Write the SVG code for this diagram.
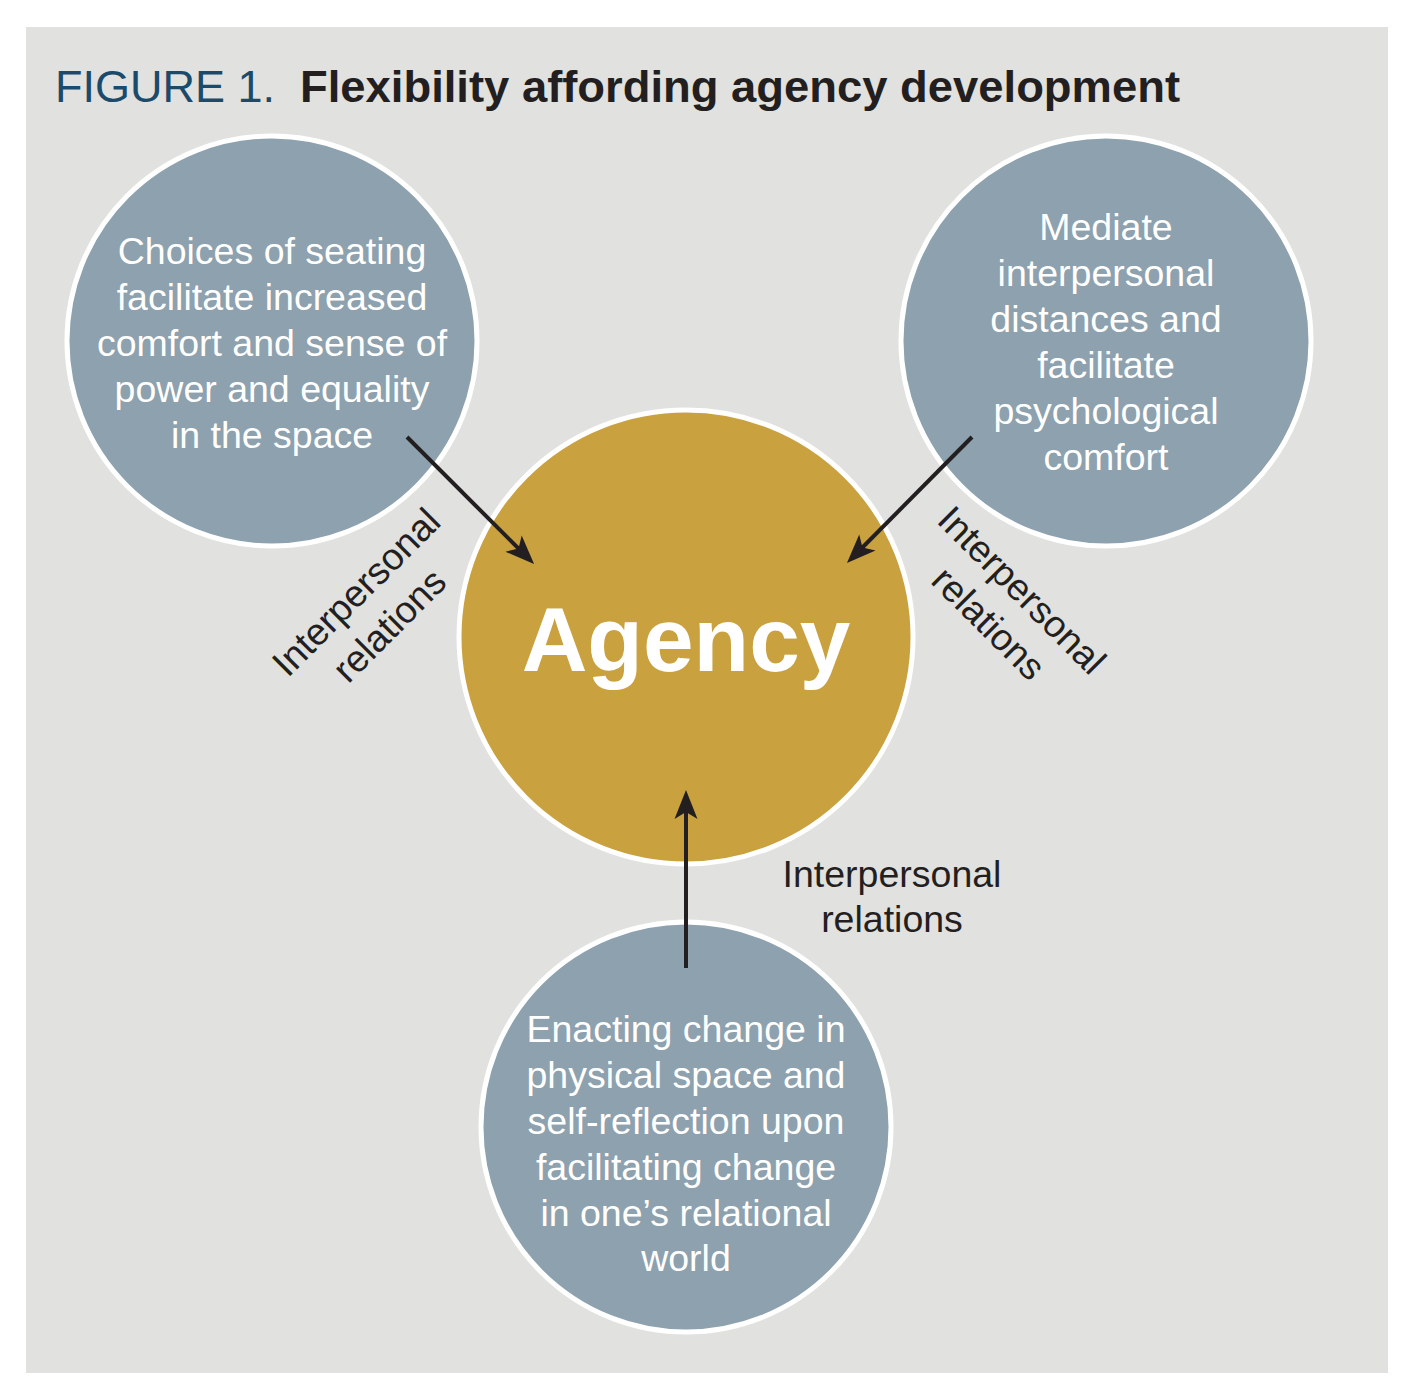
<svg xmlns="http://www.w3.org/2000/svg" width="1411" height="1400" viewBox="0 0 1411 1400">
<defs>
<style>
.bg{fill:#e1e1df}
.node{fill:#8da1ae;stroke:#ffffff;stroke-width:5}
.core{fill:#c9a13f;stroke:#ffffff;stroke-width:5}
.nt{font-family:"Liberation Sans",Arial,sans-serif;font-size:37.5px;fill:#ffffff;text-anchor:middle}
.lbl{font-family:"Liberation Sans",Arial,sans-serif;font-size:37.5px;fill:#231f20;text-anchor:middle}
.conn{stroke:#231f20;stroke-width:4;fill:none;marker-end:url(#ah)}
</style>
<marker id="ah" markerUnits="userSpaceOnUse" viewBox="-22 -13 34 26" markerWidth="34" markerHeight="26" refX="0" refY="0" orient="auto">
<path d="M10,0 L-19,-11.5 L-12,0 L-19,11.5 Z" fill="#231f20"/>
</marker>
</defs>
<rect x="0" y="0" width="1411" height="1400" fill="#ffffff"/>
<rect class="bg" x="26" y="27" width="1362" height="1346"/>
<g id="title">
<text x="55" y="102" font-family="'Liberation Sans',Arial,sans-serif" font-size="45" fill="#1b4a6a">FIGURE 1.</text>
<text x="300" y="102" font-family="'Liberation Sans',Arial,sans-serif" font-size="44" font-weight="bold" fill="#231f20" textLength="880" lengthAdjust="spacingAndGlyphs">Flexibility affording agency development</text>
</g>
<g id="node-seating">
<circle class="node" cx="272" cy="341" r="205"/>
<text class="nt" x="272" y="264">Choices of seating</text>
<text class="nt" x="272" y="310">facilitate increased</text>
<text class="nt" x="272" y="356">comfort and sense of</text>
<text class="nt" x="272" y="402">power and equality</text>
<text class="nt" x="272" y="448">in the space</text>
</g>
<g id="node-mediate">
<circle class="node" cx="1106" cy="341" r="205"/>
<text class="nt" x="1106" y="240">Mediate</text>
<text class="nt" x="1106" y="286">interpersonal</text>
<text class="nt" x="1106" y="332">distances and</text>
<text class="nt" x="1106" y="378">facilitate</text>
<text class="nt" x="1106" y="424">psychological</text>
<text class="nt" x="1106" y="470">comfort</text>
</g>
<g id="node-enacting">
<circle class="node" cx="686" cy="1127" r="205"/>
<text class="nt" x="686" y="1042">Enacting change in</text>
<text class="nt" x="686" y="1088">physical space and</text>
<text class="nt" x="686" y="1134">self-reflection upon</text>
<text class="nt" x="686" y="1180">facilitating change</text>
<text class="nt" x="686" y="1226">in one’s relational</text>
<text class="nt" x="686" y="1271">world</text>
</g>
<g id="node-agency">
<circle class="core" cx="686" cy="637" r="227"/>
<text x="686" y="671" font-family="'Liberation Sans',Arial,sans-serif" font-size="91" font-weight="bold" fill="#ffffff" text-anchor="middle">Agency</text>
</g>
<g id="connectors">
<path class="conn" d="M407,437 L527,557"/>
<path class="conn" d="M972,437 L854,556"/>
<path class="conn" d="M686,968 L686,800"/>
</g>
<g id="labels">
<g transform="translate(356,592) rotate(-45)">
<text class="lbl" x="0" y="13">Interpersonal</text>
<text class="lbl" x="0" y="60">relations</text>
</g>
<g transform="translate(1022,590) rotate(45)">
<text class="lbl" x="0" y="13">Interpersonal</text>
<text class="lbl" x="0" y="60">relations</text>
</g>
<text class="lbl" x="892" y="887">Interpersonal</text>
<text class="lbl" x="892" y="932">relations</text>
</g>
</svg>
